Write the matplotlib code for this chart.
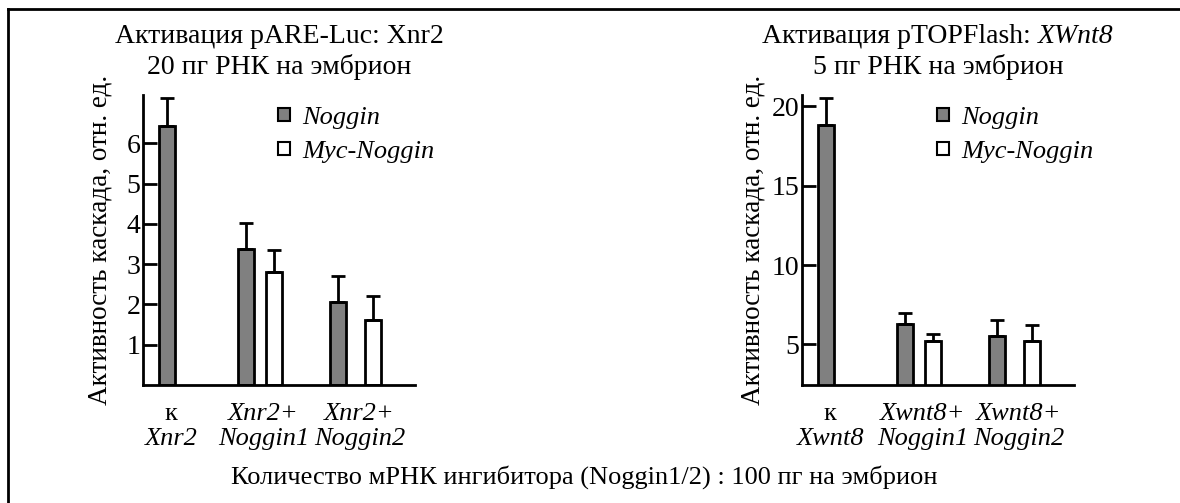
import matplotlib.pyplot as plt
from matplotlib.patches import Patch
from matplotlib.lines import Line2D

plt.rcParams['font.family'] = 'Liberation Serif'

# left panel: pARE-Luc / Xnr2
left_top = ['к', 'Xnr2+', 'Xnr2+']
left_bottom = ['Xnr2', 'Noggin1', 'Noggin2']
left_noggin = [6.43, 3.37, 2.06]
left_noggin_err = [0.70, 0.65, 0.64]
left_myc = [2.80, 1.61]
left_myc_err = [0.55, 0.60]

# right panel: pTOPFlash / Xwnt8
right_top = ['к', 'Xwnt8+', 'Xwnt8+']
right_bottom = ['Xwnt8', 'Noggin1', 'Noggin2']
right_noggin = [18.82, 6.31, 5.56]
right_noggin_err = [1.68, 0.69, 1.00]
right_myc = [5.19, 5.25]
right_myc_err = [0.49, 0.99]

W, H = 1180, 503
fig = plt.figure(figsize=(W / 100, H / 100), dpi=100)
renderer = fig.canvas.get_renderer()

gray = '#808080'
centers = [0, 0.98, 2.0]
offs = [0.15, 0.185]
bw = 0.17


def rich_line(xc, yc, parts, size):
    # one centred line made of pieces with their own font style
    texts = [fig.text(0, 1 - yc / H, s, style=st, fontsize=size, va='center')
             for s, st in parts]
    widths = [t.get_window_extent(renderer).width for t in texts]
    x = xc - sum(widths) / 2
    for t, w in zip(texts, widths):
        t.set_x(x / W)
        x += w


def panel(x0, x1, noggin, noggin_err, myc, myc_err, top, bottom,
          ylim, yticks, title1, title2, ylab_x):
    ax = fig.add_axes([x0 / W, 1 - 385 / H, (x1 - x0) / W, 290 / H])
    ek = dict(elinewidth=2, capsize=5, capthick=2, ecolor='black')
    xs_n = [centers[0]] + [centers[i + 1] - offs[i] for i in range(2)]
    xs_m = [centers[i + 1] + offs[i] for i in range(2)]
    ax.bar(xs_n, noggin, bw, color=gray, edgecolor='black', linewidth=2,
           yerr=[[0] * 3, noggin_err], error_kw=ek)
    ax.bar(xs_m, myc, bw, color='white', edgecolor='black', linewidth=2,
           yerr=[[0] * 2, myc_err], error_kw=ek)
    ax.set_xlim(-0.26, 2.63)
    ax.set_ylim(*ylim)
    ax.set_yticks(yticks)
    ax.set_xticks([])
    for s in ['top', 'right']:
        ax.spines[s].set_visible(False)
    for s in ['left', 'bottom']:
        ax.spines[s].set_linewidth(2)
    ax.tick_params(axis='y', direction='in', length=10, width=2,
                   labelsize=20, pad=2)
    tr = ax.get_xaxis_transform()
    for i in range(3):
        xc = centers[i] + 0.04
        ax.text(xc, -0.10, top[i], transform=tr, ha='center', va='center',
                fontsize=19, style='normal' if i == 0 else 'italic')
        ax.text(xc, -0.185, bottom[i], transform=tr, ha='center', va='center',
                fontsize=19, style='italic')
    handles = [Patch(facecolor=gray, edgecolor='black', linewidth=1.5),
               Patch(facecolor='white', edgecolor='black', linewidth=1.5)]
    ax.legend(handles, ['Noggin', 'Myc-Noggin'], loc='upper left',
              bbox_to_anchor=(0.41, 1.04), frameon=False,
              prop=dict(size=19, style='italic'), handlelength=0.45,
              handleheight=0.4, handletextpad=0.45, labelspacing=0.45)
    xc = (x0 + x1) / 2
    rich_line(xc, 37, title1, 20)
    rich_line(xc, 67, title2, 20)
    fig.text(ylab_x / W, 1 - 240 / H, 'Активность каскада, отн. ед.',
             rotation=90, ha='center', va='center', fontsize=19.5)
    return ax


panel(143, 415, left_noggin, left_noggin_err, left_myc, left_myc_err,
      left_top, left_bottom, (0, 7.2), [1, 2, 3, 4, 5, 6],
      [('Активация pARE-Luc: Xnr2', 'normal')],
      [('20 пг РНК на эмбрион', 'normal')], 100)
panel(802, 1074, right_noggin, right_noggin_err, right_myc, right_myc_err,
      right_top, right_bottom, (2.45, 20.7), [5, 10, 15, 20],
      [('Активация pTOPFlash: ', 'normal'), ('XWnt8', 'italic')],
      [('5 пг РНК на эмбрион', 'normal')], 753)

fig.text(584 / W, 1 - 477 / H,
         'Количество мРНК ингибитора (Noggin1/2) : 100 пг на эмбрион',
         ha='center', va='center', fontsize=19)

# frame: top and left lines only
fy = 1 - 9 / H
fx = 8 / W
fig.add_artist(Line2D([fx, 1], [fy, fy], color='black', linewidth=2))
fig.add_artist(Line2D([fx, fx], [fy, 0], color='black', linewidth=2))

fig.savefig('out.png', dpi=100)
